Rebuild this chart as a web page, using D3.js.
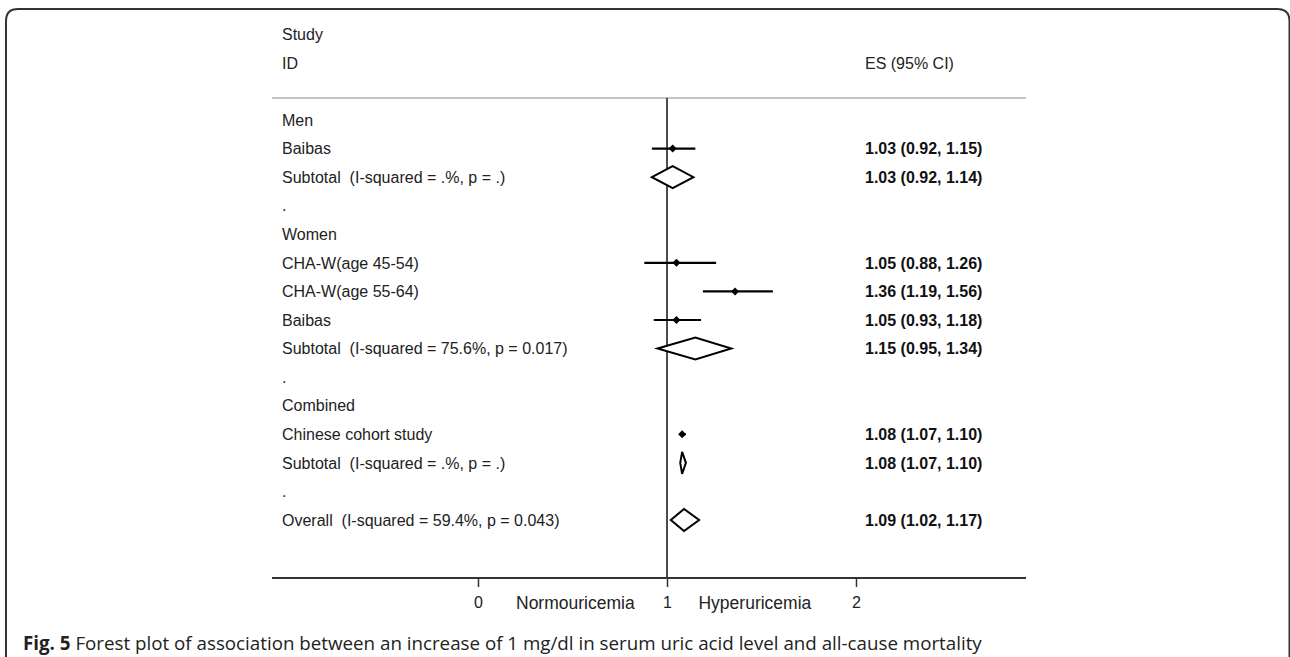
<!DOCTYPE html>
<html>
<head>
<meta charset="utf-8">
<script src="https://cdn.jsdelivr.net/npm/d3@7"></script>
<style>
  html, body { margin: 0; padding: 0; background: #fff; }
  svg { display: block; }
  text { white-space: pre; }
</style>
</head>
<body>
<svg id="chart" width="1290" height="657"></svg>
<script>
// ---------- data ----------
const rowLabels = [
  "Men",
  "Baibas",
  "Subtotal  (I-squared = .%, p = .)",
  ".",
  "Women",
  "CHA-W(age 45-54)",
  "CHA-W(age 55-64)",
  "Baibas",
  "Subtotal  (I-squared = 75.6%, p = 0.017)",
  ".",
  "Combined",
  "Chinese cohort study",
  "Subtotal  (I-squared = .%, p = .)",
  ".",
  "Overall  (I-squared = 59.4%, p = 0.043)"
];
const rowTypes = ["group","study","subtotal","blank","group","study","study","study","subtotal","blank","group","study","subtotal","blank","overall"];
const es = [null, 1.03, 1.03, null, null, 1.05, 1.36, 1.05, 1.15, null, null, 1.08, 1.08, null, 1.09];
const lo = [null, 0.92, 0.92, null, null, 0.88, 1.19, 0.93, 0.95, null, null, 1.07, 1.07, null, 1.02];
const hi = [null, 1.15, 1.14, null, null, 1.26, 1.56, 1.18, 1.34, null, null, 1.10, 1.10, null, 1.17];
const esLabels = ["", "1.03 (0.92, 1.15)", "1.03 (0.92, 1.14)", "", "", "1.05 (0.88, 1.26)", "1.36 (1.19, 1.56)", "1.05 (0.93, 1.18)", "1.15 (0.95, 1.34)", "", "", "1.08 (1.07, 1.10)", "1.08 (1.07, 1.10)", "", "1.09 (1.02, 1.17)"];
const headerLeft = ["Study", "ID"];
const headerRight = "ES (95% CI)";
const tickValues = [0, 1, 2];
const sideLabels = ["Normouricemia", "Hyperuricemia"];
const sideLabelPos = [0.515, 1.465];
const captionBold = "Fig. 5";
const captionText = " Forest plot of association between an increase of 1 mg/dl in serum uric acid level and all-cause mortality";

// ---------- layout ----------
const svg = d3.select("#chart");
const font = "'Liberation Sans', Arial, sans-serif";
const x = d3.scaleLinear().domain([0, 2]).range([478, 856]);
const y = d3.scaleLinear().domain([0, rowLabels.length - 1]).range([120, 520]);
const labelX = 282, valueX = 865;
const plotLeft = 272, plotRight = 1026, axisY = 578;

// frame (rounded top corners, open bottom)
svg.append("path")
  .attr("d", `M6,657 V21 Q6,9 18,9 H1277 Q1289.5,9 1289.5,21 V657`)
  .attr("fill", "none").attr("stroke", "#333").attr("stroke-width", 2);

// headers
svg.selectAll("text.hl").data(headerLeft).join("text")
  .attr("class", "hl")
  .attr("x", labelX).attr("y", (d, i) => y(-3 + i)).attr("dy", "0.36em")
  .attr("font-family", font).attr("font-size", 16).attr("fill", "#222")
  .text(d => d);
svg.append("text")
  .attr("x", valueX).attr("y", y(-2)).attr("dy", "0.36em")
  .attr("font-family", font).attr("font-size", 16).attr("fill", "#222")
  .text(headerRight);

// separator
svg.append("line")
  .attr("x1", plotLeft).attr("x2", plotRight)
  .attr("y1", y(-0.77)).attr("y2", y(-0.77))
  .attr("stroke", "#c4c4c4").attr("stroke-width", 2);

// null line
svg.append("line")
  .attr("x1", x(1)).attr("x2", x(1))
  .attr("y1", y(-0.77)).attr("y2", axisY)
  .attr("stroke", "#111").attr("stroke-width", 1.5);

// row labels
const rows = rowLabels.map((l, i) => ({ i, label: l, type: rowTypes[i], es: es[i], lo: lo[i], hi: hi[i], txt: esLabels[i] }));
svg.selectAll("text.rl").data(rows).join("text")
  .attr("class", "rl")
  .attr("x", labelX).attr("y", d => y(d.i)).attr("dy", "0.36em")
  .attr("font-family", font).attr("font-size", 16).attr("fill", "#222")
  .text(d => d.label);

// ES labels
svg.selectAll("text.vl").data(rows.filter(d => d.txt)).join("text")
  .attr("class", "vl")
  .attr("x", valueX).attr("y", d => y(d.i)).attr("dy", "0.36em")
  .attr("font-family", font).attr("font-size", 16).attr("font-weight", "bold").attr("fill", "#111")
  .text(d => d.txt);

// study CIs and points
const studies = rows.filter(d => d.type === "study");
svg.selectAll("line.ci").data(studies).join("line")
  .attr("class", "ci")
  .attr("x1", d => x(d.lo)).attr("x2", d => x(d.hi))
  .attr("y1", d => y(d.i)).attr("y2", d => y(d.i))
  .attr("stroke", "#000").attr("stroke-width", 2.2);
svg.selectAll("path.pt").data(studies).join("path")
  .attr("class", "pt")
  .attr("transform", d => `translate(${x(d.es)},${y(d.i)})`)
  .attr("d", "M0,-4 L4,0 L0,4 L-4,0 Z")
  .attr("fill", "#000");

// diamonds
const pooled = rows.filter(d => d.type === "subtotal" || d.type === "overall");
const h = 11;
svg.selectAll("path.dm").data(pooled).join("path")
  .attr("class", "dm")
  .attr("d", d => {
    const cy = y(d.i);
    return `M${x(d.lo)},${cy} L${x(d.es)},${cy - h} L${x(d.hi)},${cy} L${x(d.es)},${cy + h} Z`;
  })
  .attr("fill", "#fff").attr("stroke", "#000").attr("stroke-width", 2).attr("stroke-linejoin", "miter");

// x axis
svg.append("line")
  .attr("x1", plotLeft).attr("x2", plotRight)
  .attr("y1", axisY).attr("y2", axisY)
  .attr("stroke", "#333").attr("stroke-width", 2);
const axis = d3.axisBottom(x).tickValues(tickValues).tickSize(9).tickPadding(10).tickFormat(d3.format("d"));
const gAxis = svg.append("g").attr("transform", `translate(0,${axisY})`).call(axis);
gAxis.select(".domain").remove();
gAxis.selectAll(".tick line").attr("stroke", "#333").attr("stroke-width", 1.5);
gAxis.selectAll(".tick text").attr("font-family", font).attr("font-size", 16).attr("fill", "#222");

svg.selectAll("text.side").data(sideLabels).join("text")
  .attr("class", "side")
  .attr("x", (d, i) => x(sideLabelPos[i])).attr("y", 603).attr("dy", "0.36em")
  .attr("text-anchor", "middle")
  .attr("font-family", font).attr("font-size", 17.5).attr("fill", "#222")
  .text(d => d);

// caption
const cap = svg.append("text")
  .attr("x", 23).attr("y", 650)
  .attr("font-family", "'Open Sans', 'Noto Sans', sans-serif").attr("font-size", 18).attr("fill", "#222");
cap.append("tspan").attr("font-weight", "bold").text(captionBold);
cap.append("tspan").text(captionText);
const w = cap.node().getComputedTextLength();
cap.attr("font-size", 18 * 959 / w);
</script>
</body>
</html>
